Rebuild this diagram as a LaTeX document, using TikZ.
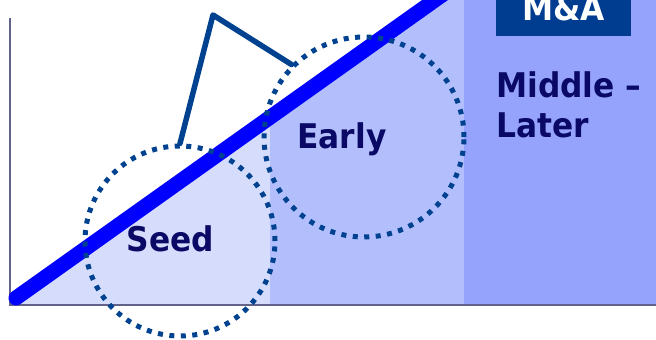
\documentclass[tikz,border=0pt]{standalone}
\usepackage{fontspec}
\newfontfamily\lblfont{DejaVu Sans}[FakeStretch=0.92]
\definecolor{seedfill}{HTML}{D5DCFC}
\definecolor{earlyfill}{HTML}{B3BFFD}
\definecolor{laterfill}{HTML}{96A3FD}
\definecolor{navy}{HTML}{0A0A66}
\definecolor{dotblue}{HTML}{00428F}
\definecolor{axisgray}{HTML}{62628A}
\definecolor{boxblue}{HTML}{003C8F}
\tikzset{
  stagelabel/.style={font=\lblfont\bfseries\fontsize{34}{40}\selectfont, text=navy, inner sep=0pt},
  axisline/.style={draw=axisgray, line width=2.2pt},
  trendline/.style={draw=blue, line width=15pt, line cap=round},
  stagering/.style={draw=dotblue, line width=5pt, dash pattern=on 5pt off 6.5pt},
  callout/.style={draw=dotblue, line width=5.5pt, line join=round, line cap=round},
}
\begin{document}
\begin{tikzpicture}[x=1pt, y=-1pt]
\useasboundingbox (0,0) rectangle (656,340);
% stage bands under the growth line
\fill[seedfill] (10,304) -- (10,302.3) -- (270,117.4) -- (270,304) -- cycle;
\fill[earlyfill] (270,304) -- (270,117.4) -- (435,0) -- (464,0) -- (464,304) -- cycle;
\fill[laterfill] (464,0) rectangle (656,304);
% axes
\coordinate (ytop) at (9.7,18);
\coordinate (orig) at (9.7,305);
\coordinate (xend) at (656,305);
\draw[axisline] (ytop) -- (orig) -- (xend);
% growth line
\coordinate (gstart) at (16,298);
\coordinate (gend) at (445,-7.1);
\draw[trendline] (gstart) -- (gend);
% stage circles
\node[circle, stagering, minimum size=190pt, inner sep=0pt] (seedc) at (180,241) {};
\node[circle, stagering, minimum size=200pt, inner sep=0pt] (earlyc) at (364,137) {};
% callout linking the two circles
\coordinate (peak) at (213,15);
\draw[callout] (seedc.north) -- (peak) -- (earlyc.135);
% labels
\node[stagelabel, anchor=base] (seed) at (170.5,251) {Seed};
\node[stagelabel, anchor=base] (early) at (342,148.5) {Early};
\node[stagelabel, anchor=base west] (middle) at (496,97) {Middle –};
\node[stagelabel, anchor=base west] (later) at (496,137) {Later};
% M&A tag
\fill[boxblue] (496,0) rectangle (631,35.7);
\node[stagelabel, text=white, anchor=base] (ma) at (563.5,20.7) {M\&A};
\end{tikzpicture}
\end{document}
